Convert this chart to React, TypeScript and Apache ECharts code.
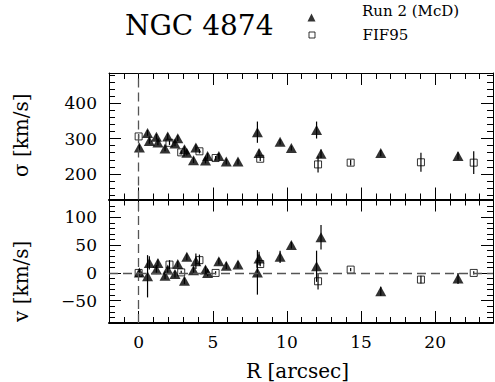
import React, { useEffect, useRef } from 'react';
import * as echarts from 'echarts';

// ---- Data ----
const runR = [0.05, 0.6, 0.72, 1.2, 1.3, 1.78, 1.96, 2.45, 2.64, 3.09, 3.25, 3.7, 3.86, 4.51, 4.65, 5.41, 5.91, 6.7, 8.01, 8.12, 9.54, 10.3, 12.0, 12.3, 16.33, 21.54];
const runSigma = [275, 316, 293, 305, 289, 272, 306, 286, 301, 270, 260, 239, 275, 238, 251, 251, 235, 235, 318, 259, 291, 273, 324, 257, 259, 251];
const runSigmaErr = [8, 8, 8, 8, 8, 8, 8, 8, 8, 8, 8, 8, 8, 8, 8, 8, 8, 8, 30, 10, 8, 7, 24, 12, 9, 10];
const runV = [1, -6, 18, 6, 18, -5, 6, -2, 16, -14, 29, 5, 21, 6, 0, 21, 13, 15, 1, 26, 29, 50, 12, 64, -33, -10];
const runVErr = [6, 38, 12, 8, 6, 6, 6, 6, 6, 6, 6, 6, 14, 6, 6, 6, 6, 6, 40, 12, 11, 6, 28, 22, 8, 10];

const fifR = [0, 2.08, 2.87, 4.1, 5.19, 8.2, 12.1, 14.3, 19.04, 22.6];
const fifSigma = [306, 288, 261, 264, 245, 243, 227, 232, 233, 232];
const fifSigmaErr = [6, 6, 6, 6, 6, 6, 23, 8, 27, 32];
const fifV = [0, 15, 1, 23, 0, 16, -15, 6, -12, 0];
const fifVErr = [3, 8, 3, 10, 3, 4, 15, 3, 7, 3];

const X_MIN = -2;
const X_MAX = 23.9;
const SIG_MIN = 128;
const SIG_MAX = 485;
const V_MIN = -90;
const V_MAX = 132;

const RUN_NAME = 'Run 2 (McD)';
const FIF_NAME = 'FIF95';
const TITLE = 'NGC 4874';
const X_NAME = 'R [arcsec]';
const SIG_NAME = 'σ [km/s]';
const V_NAME = 'v [km/s]';

const FONT = "'DejaVu Serif', 'Liberation Serif', serif";
const BLACK = '#000';

const tickFont = { fontFamily: FONT, fontSize: 17, color: BLACK, fontWeight: 'normal' };
const nameFont = { fontFamily: FONT, fontSize: 20, color: BLACK, fontWeight: 'normal' };

function xAxesFor(grid: number, showLabels: boolean, bottomW: number, topW: number) {
  const base: any = { type: 'value', gridIndex: grid, min: X_MIN, max: X_MAX, splitLine: { show: false } };
  const major = { minInterval: 5, maxInterval: 5 };
  const minor = { minInterval: 1, maxInterval: 1 };
  const tickMajor = { show: true, inside: true, length: 12, lineStyle: { color: BLACK, width: 1 } };
  const tickMinor = { show: true, inside: true, length: 6, lineStyle: { color: BLACK, width: 1 } };
  return [
    {
      ...base, ...major, position: 'bottom',
      axisLine: { show: true, onZero: false, lineStyle: { color: BLACK, width: bottomW } },
      axisTick: tickMajor,
      axisLabel: showLabels
        ? {
            show: true, showMinLabel: false, showMaxLabel: false, margin: 10, ...tickFont,
            formatter: '{t|{value}}', rich: { t: tickFont },
          }
        : { show: false },
      ...(showLabels
        ? {
            name: X_NAME, nameLocation: 'middle', nameGap: 38,
            nameTextStyle: { ...nameFont, padding: [0, 7, 0, 0] },
          }
        : {}),
    },
    { ...base, ...minor, position: 'bottom', axisLine: { show: false, onZero: false }, axisTick: tickMinor, axisLabel: { show: false } },
    {
      ...base, ...major, position: 'top',
      axisLine: { show: true, onZero: false, lineStyle: { color: BLACK, width: topW } },
      axisTick: tickMajor, axisLabel: { show: false },
    },
    { ...base, ...minor, position: 'top', axisLine: { show: false, onZero: false }, axisTick: tickMinor, axisLabel: { show: false } },
  ];
}

function yAxesFor(grid: number, min: number, max: number, majorStep: number, minorStep: number, name: string, namePad: number[]) {
  const base: any = { type: 'value', gridIndex: grid, min, max, splitLine: { show: false } };
  const major = { minInterval: majorStep, maxInterval: majorStep };
  const minor = { minInterval: minorStep, maxInterval: minorStep };
  const tickMajor = { show: true, inside: true, length: 12, lineStyle: { color: BLACK, width: 1 } };
  const tickMinor = { show: true, inside: true, length: 6, lineStyle: { color: BLACK, width: 1 } };
  return [
    {
      ...base, ...major, position: 'left',
      axisLine: { show: true, onZero: false, lineStyle: { color: BLACK, width: 1 } },
      axisTick: tickMajor,
      axisLabel: {
        show: true, showMinLabel: false, showMaxLabel: false, margin: 12, ...tickFont,
        formatter: (v: number) => '{t|' + (v < 0 ? '−' + Math.abs(v) : String(v)) + '}',
        rich: { t: tickFont },
      },
      name, nameLocation: 'middle', nameRotate: 90, nameGap: 78,
      nameTextStyle: { ...nameFont, padding: namePad },
    },
    { ...base, ...minor, position: 'left', axisLine: { show: false, onZero: false }, axisTick: tickMinor, axisLabel: { show: false } },
    {
      ...base, ...major, position: 'right',
      axisLine: { show: true, onZero: false, lineStyle: { color: BLACK, width: 1 } },
      axisTick: tickMajor, axisLabel: { show: false },
    },
    { ...base, ...minor, position: 'right', axisLine: { show: false, onZero: false }, axisTick: tickMinor, axisLabel: { show: false } },
  ];
}

function errData(xs: number[], ys: number[], es: number[]) {
  return xs.map((x, i) => [x, ys[i] - es[i], ys[i] + es[i]]);
}

function pts(xs: number[], ys: number[]) {
  return xs.map((x, i) => [x, ys[i]]);
}

const errRender = (params: any, api: any) => {
  const x = api.value(0);
  const p1 = api.coord([x, api.value(1)]);
  const p2 = api.coord([x, api.value(2)]);
  return {
    type: 'line',
    shape: { x1: p1[0], y1: p1[1], x2: p2[0], y2: p2[1] },
    style: { stroke: BLACK, lineWidth: 1.2 },
  };
};

const dashStyle = { type: [9, 5], color: '#555', width: 1.3 };

export default function App() {
  const ref = useRef<HTMLDivElement>(null);

  useEffect(() => {
    if (!ref.current) return;
    const chart = echarts.init(ref.current, undefined, { renderer: 'svg' });

    const runItem = { color: BLACK };
    const fifItem = { color: 'rgba(0,0,0,0)', borderColor: BLACK, borderWidth: 1 };
    const legendText = { fontFamily: FONT, fontSize: 15, color: BLACK };

    const option: any = {
      animation: false,
      backgroundColor: '#fff',
      textStyle: { fontFamily: FONT, color: BLACK },
      title: {
        text: TITLE, left: 125, top: 11, padding: 0,
        textStyle: { fontFamily: FONT, fontSize: 28, fontWeight: 'normal', color: BLACK },
      },
      legend: [
        // Run 2 marker (icon only, sits lower than its text as in the reference)
        {
          data: [{ name: RUN_NAME, icon: 'triangle', itemStyle: runItem }],
          left: 307.5, top: 13.5, padding: 0, itemWidth: 8, itemHeight: 8,
          selectedMode: false, formatter: () => '',
          textStyle: legendText,
        },
        // Run 2 label
        {
          data: [{ name: RUN_NAME, icon: 'none' }],
          left: 357, top: 3.5, padding: 0, itemWidth: 0, itemHeight: 0,
          selectedMode: false,
          textStyle: legendText,
        },
        {
          data: [{ name: FIF_NAME, icon: 'rect', itemStyle: fifItem }],
          left: 308.5, top: 27.5, padding: 0, itemWidth: 6, itemHeight: 6,
          selectedMode: false,
          textStyle: { ...legendText, padding: [0, 0, 0, 42.5] },
        },
      ],
      grid: [
        { left: 109, top: 73, width: 384, height: 126.5 },
        { left: 109, top: 199.5, width: 384, height: 126.5 },
      ],
      xAxis: [...xAxesFor(0, false, 1, 1), ...xAxesFor(1, true, 2, 2)],
      yAxis: [
        ...yAxesFor(0, SIG_MIN, SIG_MAX, 100, 20, SIG_NAME, [0, 0, 0, 2]),
        ...yAxesFor(1, V_MIN, V_MAX, 50, 10, V_NAME, [0, 40, 0, 0]),
      ],
      series: [
        // top panel: sigma
        {
          name: 'run2-sigma-err', type: 'custom', xAxisIndex: 0, yAxisIndex: 0,
          renderItem: errRender, data: errData(runR, runSigma, runSigmaErr), silent: true, z: 2,
        },
        {
          name: 'fif-sigma-err', type: 'custom', xAxisIndex: 0, yAxisIndex: 0,
          renderItem: errRender, data: errData(fifR, fifSigma, fifSigmaErr), silent: true, z: 2,
        },
        {
          name: RUN_NAME, type: 'scatter', xAxisIndex: 0, yAxisIndex: 0,
          symbol: 'triangle', symbolSize: [11, 10], itemStyle: runItem, z: 3,
          data: pts(runR, runSigma),
          markLine: {
            silent: true, symbol: ['none', 'none'], label: { show: false },
            lineStyle: dashStyle, data: [{ xAxis: 0 }], animation: false,
          },
        },
        {
          name: FIF_NAME, type: 'scatter', xAxisIndex: 0, yAxisIndex: 0,
          symbol: 'rect', symbolSize: 7, itemStyle: fifItem, z: 4,
          data: pts(fifR, fifSigma),
        },
        // bottom panel: v
        {
          name: 'run2-v-err', type: 'custom', xAxisIndex: 4, yAxisIndex: 4,
          renderItem: errRender, data: errData(runR, runV, runVErr), silent: true, z: 2,
        },
        {
          name: 'fif-v-err', type: 'custom', xAxisIndex: 4, yAxisIndex: 4,
          renderItem: errRender, data: errData(fifR, fifV, fifVErr), silent: true, z: 2,
        },
        {
          name: RUN_NAME, type: 'scatter', xAxisIndex: 4, yAxisIndex: 4,
          symbol: 'triangle', symbolSize: [11, 10], itemStyle: runItem, z: 3,
          data: pts(runR, runV),
          markLine: {
            silent: true, symbol: ['none', 'none'], label: { show: false },
            lineStyle: dashStyle, data: [{ xAxis: 0 }, { yAxis: 0 }], animation: false,
          },
        },
        {
          name: FIF_NAME, type: 'scatter', xAxisIndex: 4, yAxisIndex: 4,
          symbol: 'rect', symbolSize: 7, itemStyle: fifItem, z: 4,
          data: pts(fifR, fifV),
        },
      ],
    };

    chart.setOption(option);
    return () => chart.dispose();
  }, []);

  return (
    <div
      ref={ref}
      style={{ position: 'absolute', left: 0, top: 0, width: 495, height: 382, background: '#fff' }}
    />
  );
}
